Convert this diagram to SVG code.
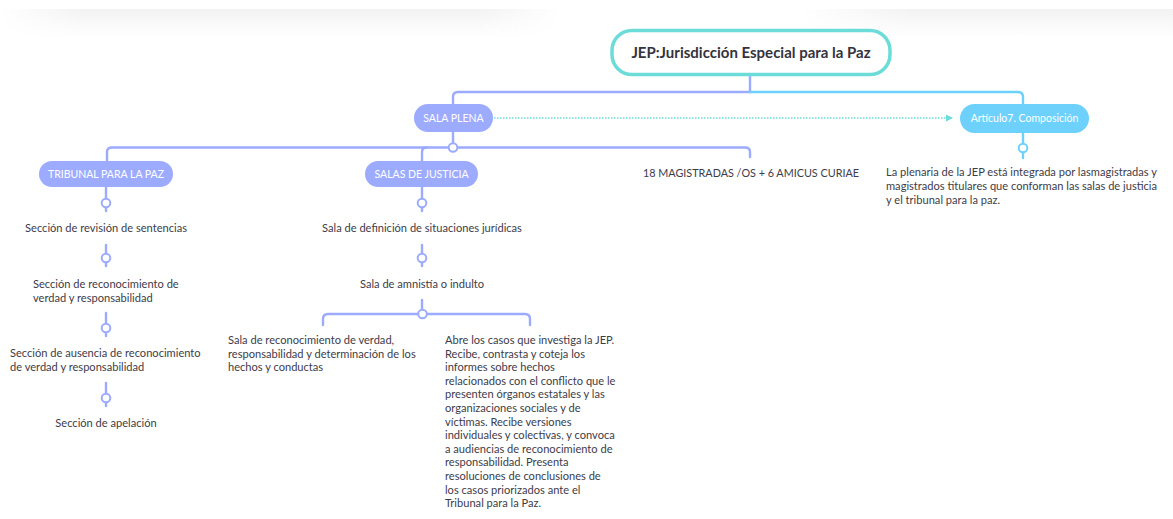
<svg xmlns="http://www.w3.org/2000/svg" width="1173" height="519" viewBox="0 0 1173 519">
<style>
text{font-family:Lato,"Open Sans","Noto Sans",sans-serif;}
.t{font-size:11.1px;fill:#3e3c48;}
.nt{font-size:10.5px;fill:#ffffff;text-anchor:middle;}
.c{text-anchor:middle;}
.lv{fill:none;stroke:#9dabff;stroke-width:2.4;stroke-linecap:round;}
.bl{fill:none;stroke:#6dd1fc;stroke-width:2.4;stroke-linecap:round;}
.dot{fill:#ffffff;stroke:#9dabff;stroke-width:2;}
.dotb{fill:#ffffff;stroke:#6dd1fc;stroke-width:2;}
.np{fill:#9dabff;}
</style>
<defs>
<linearGradient id="sh" x1="0" y1="0" x2="0" y2="1">
<stop offset="0" stop-color="#f2f2f2"/>
<stop offset="1" stop-color="#ffffff"/>
</linearGradient>
<linearGradient id="fadeL" x1="0" y1="0" x2="1" y2="0">
<stop offset="0" stop-color="#fff" stop-opacity="0"/>
<stop offset="0.15" stop-color="#fff" stop-opacity="1"/>
<stop offset="0.85" stop-color="#fff" stop-opacity="1"/>
<stop offset="1" stop-color="#fff" stop-opacity="0"/>
</linearGradient>
<linearGradient id="fadeR" x1="0" y1="0" x2="1" y2="0">
<stop offset="0" stop-color="#fff" stop-opacity="0"/>
<stop offset="0.3" stop-color="#fff" stop-opacity="1"/>
<stop offset="1" stop-color="#fff" stop-opacity="1"/>
</linearGradient>
<mask id="mL" maskContentUnits="userSpaceOnUse"><rect x="0" y="9" width="560" height="28" fill="url(#fadeL)"/></mask>
<mask id="mR" maskContentUnits="userSpaceOnUse"><rect x="800" y="9" width="373" height="28" fill="url(#fadeR)"/></mask>
<marker id="ar" markerWidth="8" markerHeight="8" refX="6" refY="4" orient="auto" markerUnits="userSpaceOnUse">
<path d="M0,0.5 L7,4 L0,7.5 Z" fill="#6bdcd8"/>
</marker>
</defs>
<rect x="0" y="0" width="1173" height="519" fill="#ffffff"/>
<rect x="0" y="9" width="560" height="28" fill="url(#sh)" mask="url(#mL)"/>
<rect x="800" y="9" width="373" height="28" fill="url(#sh)" mask="url(#mR)"/>

<g id="connectors">
<path class="lv" d="M750,75 V92 H458 Q453,92 453,97 V104"/>
<path class="bl" d="M750,92 H1018 Q1023,92 1023,97 V104"/>
<path d="M494,118 H952" fill="none" stroke="#6bdcd8" stroke-width="1.3" stroke-dasharray="1.5 1.5" marker-end="url(#ar)"/>
<path class="lv" d="M453,132 V143"/>
<path class="lv" d="M107,161 V152 Q107,147.5 112,147.5 H745 Q750,147.5 750,152 V157"/>
<path class="lv" d="M427,147.5 Q422,147.5 422,152 V161"/>
<circle class="dot" cx="453" cy="147.5" r="4.3"/>
<path class="bl" d="M1023,133 V144 M1023,152 V158"/>
<circle class="dotb" cx="1023" cy="148" r="4.3"/>
<path class="lv" d="M106,187 V199 M106,207 V211"/>
<circle class="dot" cx="106" cy="203" r="4.3"/>
<path class="lv" d="M106,245 V254 M106,262 V266"/>
<circle class="dot" cx="106" cy="258" r="4.3"/>
<path class="lv" d="M106,313 V324 M106,332 V336"/>
<circle class="dot" cx="106" cy="328" r="4.3"/>
<path class="lv" d="M106,383 V394 M106,402 V406"/>
<circle class="dot" cx="106" cy="398" r="4.3"/>
<path class="lv" d="M422,187 V199 M422,207 V211"/>
<circle class="dot" cx="422" cy="203" r="4.3"/>
<path class="lv" d="M422,245 V254 M422,262 V266"/>
<circle class="dot" cx="422" cy="258" r="4.3"/>
<path class="lv" d="M422,300 V310"/>
<path class="lv" d="M323,325 V319 Q323,314 328,314 H525 Q530,314 530,319 V325"/>
<circle class="dot" cx="422.5" cy="314" r="4.3"/>
</g>

<g id="root">
<rect x="612" y="30.5" width="278" height="44" rx="20" fill="#ffffff" stroke="#6bdcd8" stroke-width="3.5"/>
<text x="751" y="57.5" class="c" style="font-size:15px;font-weight:bold;fill:#35333d;">JEP:Jurisdicción Especial para la Paz</text>
</g>

<g id="sala-plena">
<rect class="np" x="414" y="104" width="79" height="28" rx="14"/>
<text class="nt" x="453.5" y="121.7">SALA PLENA</text>
</g>

<g id="articulo7">
<rect x="960" y="104" width="129" height="29" rx="14.5" fill="#6dd1fc"/>
<text class="nt" x="1024.5" y="122.2">Artículo7. Composición</text>
</g>

<g id="articulo7-texto">
<text class="t" x="886" y="176">La plenaria de la JEP está integrada por lasmagistradas y</text>
<text class="t" x="886" y="190">magistrados titulares que conforman las salas de justicia</text>
<text class="t" x="886" y="204">y el tribunal para la paz.</text>
</g>

<g id="magistradas">
<text class="t c" x="751" y="177" style="font-size:10.8px">18 MAGISTRADAS /OS + 6 AMICUS CURIAE</text>
</g>

<g id="tribunal">
<rect class="np" x="39" y="161" width="134" height="26" rx="13"/>
<text class="nt" x="106" y="177.7">TRIBUNAL PARA LA PAZ</text>
</g>

<g id="seccion-revision">
<text class="t c" x="106" y="232">Sección de revisión de sentencias</text>
</g>
<g id="seccion-reconocimiento">
<text class="t" x="33" y="288">Sección de reconocimiento de</text>
<text class="t" x="33" y="302">verdad y responsabilidad</text>
</g>
<g id="seccion-ausencia">
<text class="t" x="10" y="357">Sección de ausencia de reconocimiento</text>
<text class="t" x="10" y="371">de verdad y responsabilidad</text>
</g>
<g id="seccion-apelacion">
<text class="t c" x="106" y="427">Sección de apelación</text>
</g>

<g id="salas-justicia">
<rect class="np" x="365" y="161" width="113" height="26" rx="13"/>
<text class="nt" x="421.5" y="177.7">SALAS DE JUSTICIA</text>
</g>

<g id="sala-definicion">
<text class="t c" x="422" y="232">Sala de definición de situaciones jurídicas</text>
</g>
<g id="sala-amnistia">
<text class="t c" x="422" y="288">Sala de amnistía o indulto</text>
</g>
<g id="sala-reconocimiento">
<text class="t" x="228" y="344">Sala de reconocimiento de verdad,</text>
<text class="t" x="228" y="357.5">responsabilidad y determinación de los</text>
<text class="t" x="228" y="371">hechos y conductas</text>
</g>
<g id="sala-descripcion">
<text class="t" x="445" y="344">Abre los casos que investiga la JEP.</text>
<text class="t" x="445" y="357.6">Recibe, contrasta y coteja los</text>
<text class="t" x="445" y="371.2">informes sobre hechos</text>
<text class="t" x="445" y="384.8">relacionados con el conflicto que le</text>
<text class="t" x="445" y="398.4">presenten órganos estatales y las</text>
<text class="t" x="445" y="412">organizaciones sociales y de</text>
<text class="t" x="445" y="425.6">víctimas. Recibe versiones</text>
<text class="t" x="445" y="439.2">individuales y colectivas, y convoca</text>
<text class="t" x="445" y="452.8">a audiencias de reconocimiento de</text>
<text class="t" x="445" y="466.4">responsabilidad. Presenta</text>
<text class="t" x="445" y="480">resoluciones de conclusiones de</text>
<text class="t" x="445" y="493.6">los casos priorizados ante el</text>
<text class="t" x="445" y="507.2">Tribunal para la Paz.</text>
</g>
</svg>
